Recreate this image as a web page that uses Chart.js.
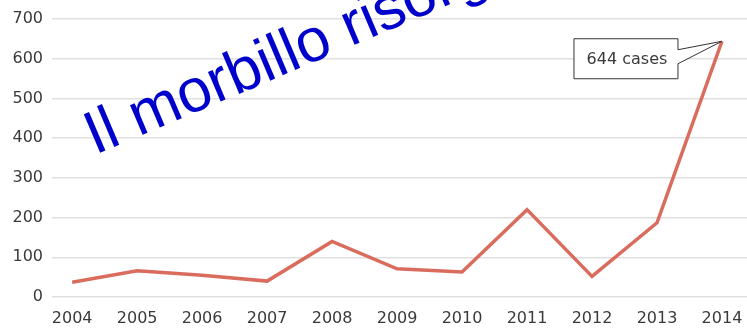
<!DOCTYPE html>
<html>
<head>
<meta charset="utf-8">
<script src="https://cdn.jsdelivr.net/npm/chart.js@4"></script>
<style>
  html, body { margin: 0; padding: 0; background: #fff; }
  #wrap { width: 747px; height: 331px; }
</style>
</head>
<body>
<div id="wrap"><canvas id="measles-chart" width="747" height="331"></canvas></div>
<script>
const YEARS = [2004, 2005, 2006, 2007, 2008, 2009, 2010, 2011, 2012, 2013, 2014];
const CASES = [37, 66, 55, 40, 140, 71, 63, 220, 52, 187, 644];
const Y_TICKS = [0, 100, 200, 300, 400, 500, 600, 700];
const TITLE = 'Il morbillo risorge';
const CALLOUT = '644 cases';

const LINE_COLOR = '#d96c5d';
const TEXT_COLOR = '#3a3a3a';
const TICK_FONT = { family: "'DejaVu Sans', sans-serif", size: 16 };

// callout box pointing at the last point, plus the blue overlay title
const overlayPlugin = {
  id: 'overlay',
  afterDraw(chart) {
    const ctx = chart.ctx;
    const meta = chart.getDatasetMeta(0);
    const last = meta.data[meta.data.length - 1];
    const px = last.x, py = last.y;

    const boxR = px - 44, boxL = boxR - 104;
    const boxT = py - 2.5, boxB = py + 37.5;
    ctx.save();
    ctx.beginPath();
    ctx.moveTo(boxL, boxT);
    ctx.lineTo(boxR, boxT);
    ctx.lineTo(boxR, py + 8.5);
    ctx.lineTo(px, py);
    ctx.lineTo(boxR, py + 22.5);
    ctx.lineTo(boxR, boxB);
    ctx.lineTo(boxL, boxB);
    ctx.closePath();
    ctx.fillStyle = '#fff';
    ctx.fill();
    ctx.lineWidth = 1;
    ctx.strokeStyle = '#333';
    ctx.stroke();
    ctx.fillStyle = TEXT_COLOR;
    ctx.font = "16px 'DejaVu Sans', sans-serif";
    ctx.textAlign = 'center';
    ctx.textBaseline = 'middle';
    ctx.fillText(CALLOUT, (boxL + boxR) / 2 + 1, (boxT + boxB) / 2 + 1);
    ctx.restore();

    ctx.save();
    ctx.translate(95, 155);
    ctx.rotate(-23 * Math.PI / 180);
    ctx.fillStyle = '#0000cd';
    ctx.font = "61px 'Liberation Sans', Arial, sans-serif";
    ctx.textAlign = 'left';
    ctx.textBaseline = 'alphabetic';
    ctx.fillText(TITLE, 0, 0);
    ctx.restore();
  }
};

const ctx = document.getElementById('measles-chart').getContext('2d');
new Chart(ctx, {
  type: 'line',
  data: {
    datasets: [{
      data: YEARS.map((y, i) => ({ x: y, y: CASES[i] })),
      borderColor: LINE_COLOR,
      borderWidth: 3.5,
      pointRadius: 0,
      tension: 0,
      fill: false,
    }],
  },
  options: {
    responsive: false,
    animation: false,
    layout: { padding: { top: 19, right: 0, bottom: 0, left: 0 } },
    plugins: {
      legend: { display: false },
      tooltip: { enabled: false },
    },
    scales: {
      x: {
        type: 'linear',
        min: 2003.69,
        max: 2014.385,
        grid: { display: false, drawTicks: false },
        border: { display: false },
        afterFit: (scale) => {
          scale.height = 34;
          scale.paddingLeft = 0;
          scale.paddingRight = 0;
        },
        ticks: {
          stepSize: 1,
          includeBounds: false,
          autoSkip: false,
          maxRotation: 0,
          padding: 12,
          color: TEXT_COLOR,
          font: TICK_FONT,
          callback: (v) => YEARS.includes(v) ? String(v) : '',
        },
      },
      y: {
        min: Y_TICKS[0],
        max: Y_TICKS[Y_TICKS.length - 1],
        grid: { color: '#e0e0e0', lineWidth: 1.5, drawTicks: false },
        border: { display: false },
        afterFit: (scale) => { scale.width = 52; },
        afterBuildTicks: (scale) => { scale.ticks = Y_TICKS.map(v => ({ value: v })); },
        ticks: {
          padding: 9,
          color: TEXT_COLOR,
          font: TICK_FONT,
        },
      },
    },
  },
  plugins: [overlayPlugin],
});
</script>
</body>
</html>
